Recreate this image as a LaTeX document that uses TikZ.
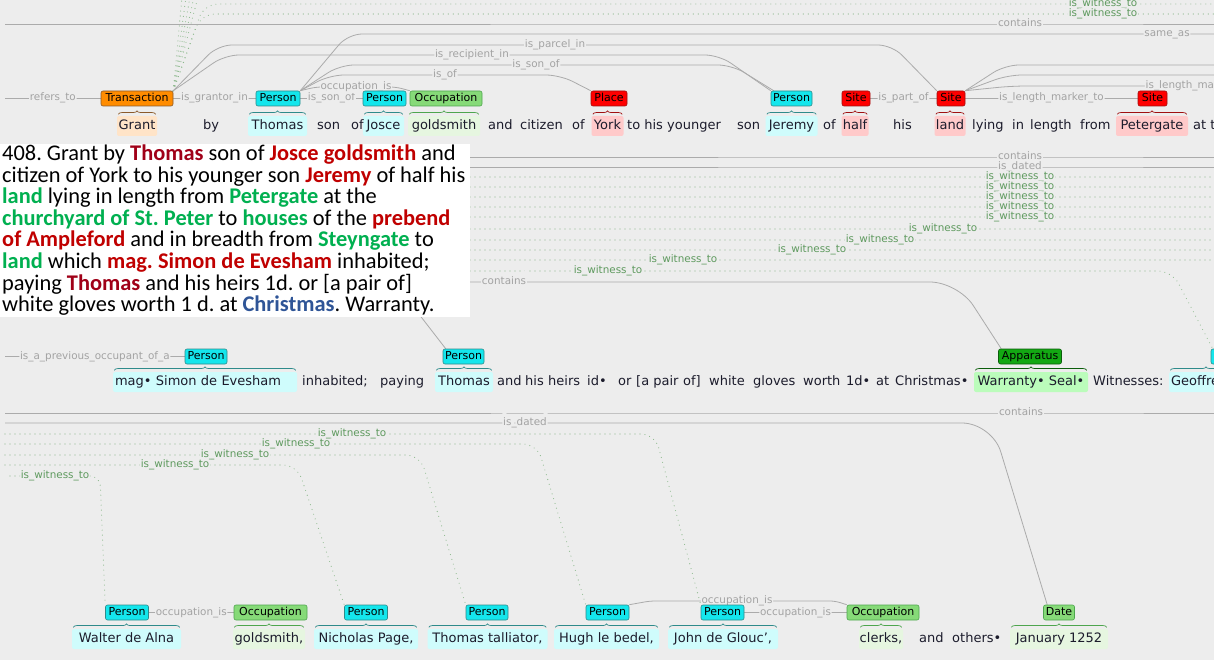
\documentclass[tikz,border=0pt]{standalone}
\usepackage{fontspec}
\setmainfont{DejaVu Sans}
\newfontfamily\calib{Carlito}
\usetikzlibrary{decorations.pathreplacing}
\pgfdeclarelayer{bgl}\pgfdeclarelayer{conl}\pgfsetlayers{bgl,conl,main}
\frenchspacing

\definecolor{bgc}{HTML}{EDEDED}
\definecolor{lnc}{HTML}{ABABAB}
\definecolor{lblc}{HTML}{A3A3A3}
\definecolor{witc}{HTML}{8CB98C}
\definecolor{witl}{HTML}{5F9A5F}
\definecolor{txtc}{HTML}{1C1C2C}
\definecolor{perF}{HTML}{14E6EC}
\definecolor{perB}{HTML}{2E8B8B}
\definecolor{perW}{HTML}{CFFCFC}
\definecolor{occF}{HTML}{86DA78}
\definecolor{occB}{HTML}{4EA64E}
\definecolor{occW}{HTML}{E6F6E0}
\definecolor{siteF}{HTML}{FF0000}
\definecolor{siteB}{HTML}{A01010}
\definecolor{siteW}{HTML}{FFCACA}
\definecolor{trF}{HTML}{FF8C00}
\definecolor{trB}{HTML}{8B5A2B}
\definecolor{trW}{HTML}{FFE4C8}
\definecolor{apF}{HTML}{13A813}
\definecolor{apB}{HTML}{0B5E0B}
\definecolor{apW}{HTML}{BBFCBB}
\definecolor{redA}{HTML}{C00000}
\definecolor{redB}{HTML}{A00018}
\definecolor{grnA}{HTML}{00B050}
\definecolor{bluA}{HTML}{2F5597}

\newcommand\wordsz{\fontsize{13}{15}\selectfont}
\newcommand\badgesz{\fontsize{11}{13}\selectfont}
\newcommand\lblsz{\fontsize{10.4}{12}\selectfont}
\newcommand\boxsz{\calib\fontsize{22.4}{22.4}\selectfont}
\newcommand\rdt[1]{\textcolor{redA}{\bfseries #1}}
\newcommand\thomt[1]{\textcolor{redB}{\bfseries #1}}
\newcommand\grt[1]{\textcolor{grnA}{\bfseries #1}}
\newcommand\blt[1]{\textcolor{bluA}{\bfseries #1}}

\begin{document}
\begin{tikzpicture}[x=1pt,y=-1pt,
  badge/.style={rounded corners=2pt, line width=0.6pt, font=\badgesz, text=black, inner sep=0pt, minimum height=15pt, text height=8pt, text depth=2pt},
  per/.style={badge, fill=perF, draw=perB, minimum width=#1},
  occ/.style={badge, fill=occF, draw=occB, minimum width=#1},
  datb/.style={badge, fill=occF, draw=occB, minimum width=#1},
  sitb/.style={badge, fill=siteF, draw=siteB, minimum width=#1},
  trn/.style={badge, fill=trF, draw=trB, minimum width=#1},
  app/.style={badge, fill=apF, draw=apB, minimum width=#1},
  wbox/.style={rounded corners=2pt, font=\wordsz, text=txtc, inner sep=0pt, minimum height=20pt, text height=9.5pt, text depth=2.5pt},
  pw/.style={wbox, fill=perW, minimum width=#1},
  pwl/.style={wbox, fill=perW, text width=#1, align=left, inner xsep=2pt},
  ow/.style={wbox, fill=occW, minimum width=#1},
  sw/.style={wbox, fill=siteW, minimum width=#1},
  tw/.style={wbox, fill=trW, minimum width=#1},
  aw/.style={wbox, fill=apW, minimum width=#1},
  plain/.style={font=\wordsz, text=txtc, inner sep=0pt, anchor=base west},
  conn/.style={draw=lnc, line width=0.8pt, rounded corners=14pt},
  wit/.style={draw=witc, line width=1.1pt, dash pattern=on 0pt off 5pt, line cap=round, rounded corners=14pt},
  lbl/.style={font=\lblsz, text=lblc, fill=bgc, inner sep=0.8pt, text height=7.5pt, text depth=2.5pt},
  wlbl/.style={lbl, text=witl},
  brc/.style={decorate, decoration={brace, amplitude=3.5pt}, line width=0.7pt},
  boxln/.style={anchor=base west, inner sep=0pt, font=\boxsz, text=black}
]
\useasboundingbox (0,0) rectangle (1214,660);
\begin{pgfonlayer}{bgl}
\fill[bgc] (0,0) rectangle (1214,660);
\end{pgfonlayer}

% ---------- free-end coordinates ----------
\coordinate (L24) at (5,24);   \coordinate (R24) at (1214,24);
\coordinate (R4) at (1214,4);  \coordinate (R14) at (1214,14);
\coordinate (R34) at (1214,34);
\coordinate (R65) at (1214,65); \coordinate (R75) at (1214,75);
\coordinate (L98) at (5,98.5);
\coordinate (H1) at (408,300);
\coordinate (L356) at (5,356.5);

% ---------- row 1 ----------
\node[trn=72] (tr) at (137,98.5) {Transaction};
\node[per=44] (p1) at (278,98.5) {Person};
\node[per=43] (p2) at (384.5,98.5) {Person};
\node[occ=72] (o1) at (446,98.5) {Occupation};
\node[sitb=36] (pl1) at (609,98.5) {Place};
\node[per=41] (p3) at (791.5,98.5) {Person};
\node[sitb=28] (s1) at (856,98.5) {Site};
\node[sitb=28] (s2) at (951,98.5) {Site};
\node[sitb=29] (s3) at (1152.5,98.5) {Site};

\node[tw=40] (wgrant) at (137,126) {Grant};
\node[pw=59] (wthomas) at (277.5,126) {Thomas};
\node[pw=41] (wjosce) at (383.5,126) {Josce};
\node[ow=72] (wgold) at (444,126) {goldsmith};
\node[sw=32] (wyork) at (607.5,126) {York};
\node[pw=52] (wjer) at (791.5,126) {Jeremy};
\node[sw=27] (whalf) at (855,126) {half};
\node[sw=31] (wland) at (950,126) {land};
\node[sw=72] (wpet) at (1152,126) {Petergate};

\foreach \x/\t [count=\i] in {203/by,317/son,351/of,488/and,520/citizen,572/of,627/to his younger,737/son,823/of,893/his,972/lying,1012/in,1030/length,1080/from,1193/at the}
  \node[plain] (ra\i) at (\x,129.5) {\t};

% ---------- row 2 ----------
\node[per=42] (p4) at (206,356.5) {Person};
\node[per=41] (p5) at (463.5,356.5) {Person};
\node[app=63] (ap) at (1030,356.5) {Apparatus};
\node[per=42] (p6) at (1232,356.5) {Person};

\node[pwl=180] (wsimon) at (205,382) {mag• Simon de Evesham};
\node[pw=58] (wthomas2) at (464,382) {Thomas};
\node[aw=114] (wwar) at (1031,382) {Warranty• Seal•};
\node[pwl=70] (wgeof) at (1206,382) {Geoffrey};

\foreach \x/\t [count=\i] in {302/inhabited;,380/paying,497/and,525/his,548/heirs,587/id•,618/or,636/[a pair,683/of],709/white,753/gloves,803/worth,846/1d•,876/at,895/Christmas•,1093/Witnesses:}
  \node[plain] (rb\i) at (\x,385.5) {\t};

% ---------- row 3 ----------
\node[per=43] (walt) at (127,612.5) {Person};
\node[occ=73] (o2) at (270.5,612.5) {Occupation};
\node[per=43] (nich) at (366,612.5) {Person};
\node[per=42] (tt) at (487,612.5) {Person};
\node[per=43] (hugh) at (607.5,612.5) {Person};
\node[per=43] (john) at (722.5,612.5) {Person};
\node[occ=72] (o3) at (883,612.5) {Occupation};
\node[datb=31] (dt) at (1059,612.5) {Date};

\node[pw=109] (wwalt) at (126.5,639) {Walter de Alna};
\node[ow=72] (wgold2) at (269,639) {goldsmith,};
\node[pw=104] (wnich) at (366,639) {Nicholas Page,};
\node[pw=120] (wtt) at (487.5,639) {Thomas talliator,};
\node[pw=105] (whugh) at (606.5,639) {Hugh le bedel,};
\node[pw=110] (wjohn) at (723,639) {John de Glouc',};
\node[ow=44] (wclerks) at (881,639) {clerks,};
\node[ow=98] (wjan) at (1059,639) {January 1252};
\node[plain] (rc1) at (919,642.5) {and};
\node[plain] (rc2) at (952,642.5) {others•};

% ---------- braces ----------
\foreach \w/\c in {wgrant/trB,wthomas/perB,wjosce/perB,wgold/occB,wyork/siteB,wjer/perB,whalf/siteB,wland/siteB,wpet/siteB,wsimon/perB,wthomas2/perB,wwar/apB,wgeof/perB,wwalt/perB,wgold2/occB,wnich/perB,wtt/perB,whugh/perB,wjohn/perB,wclerks/occB,wjan/occB}
  \draw[brc, draw=\c] ([shift={(1.5,-1.5)}]\w.north west) -- ([shift={(-1.5,-1.5)}]\w.north east);

% ---------- text box ----------
\node[fill=white, minimum width=470, minimum height=173, inner sep=0pt, anchor=north west] (tbox) at (0,144) {};
\node[boxln] (bl1) at (2,161) {408. Grant by \thomt{Thomas} son of \rdt{Josce goldsmith} and};
\node[boxln] (bl2) at (2,182.5) {citizen of York to his younger son \rdt{Jeremy} of half his};
\node[boxln] (bl3) at (2,204) {\grt{land} lying in length from \grt{Petergate} at the};
\node[boxln] (bl4) at (2,225.5) {\grt{churchyard of St. Peter} to \grt{houses} of the \rdt{prebend}};
\node[boxln] (bl5) at (2,247) {\rdt{of Ampleford} and in breadth from \grt{Steyngate} to};
\node[boxln] (bl6) at (2,268.5) {\grt{land} which \rdt{mag. Simon de Evesham} inhabited;};
\node[boxln] (bl7) at (2,290) {paying \thomt{Thomas} and his heirs 1d. or [a pair of]};
\node[boxln] (bl8) at (2,311.5) {white gloves worth 1 d. at \blt{Christmas}. Warranty.};

% ---------- connectors ----------
\begin{pgfonlayer}{conl}
% top witness lines
\foreach \k in {182,186,190,194,198}
  \draw[wit, rounded corners=0pt] (tr.north east) -- (\k,-3);
\draw[wit] (tr.north east) -- (204,4) -- (1063,4) -- node[wlbl] (tw1) {is\_witness\_to} (1143,4) -- (R4);
\draw[wit] (tr.north east) -- (201,14) -- (1063,14) -- node[wlbl] (tw2) {is\_witness\_to} (1143,14) -- (R14);
% row 1
\draw[conn] (L24) -- (980,24) -- node[lbl] (lb10) {contains} (1060,24) -- (R24);
\draw[conn] (L98) -- node[lbl] (lb1) {refers\_to} (tr.west);
\draw[conn] (tr.east) -- node[lbl] (lb2) {is\_grantor\_in} (p1.west);
\draw[conn] (p1.east) -- node[lbl] (lb3) {is\_son\_of} (p2.west);
\draw[conn, rounded corners=6pt] (p1.north east) -- (316,87) -- node[lbl] (lb4) {occupation\_is} (396,87) -- (o1.north west);
\draw[conn] (p1.north east) -- (330,75) -- node[lbl] (lb5) {is\_of} (560,75) -- (pl1.north west);
\draw[conn] (p1.north east) -- (340,65) -- node[lbl] (lb6) {is\_son\_of} (732,65) -- ([xshift=3pt]p3.north west);
\draw[conn] (p1.north east) -- (348,34) -- (1120,34) -- node[lbl] (lb7) {same\_as} (R34);
\draw[conn] (tr.north east) -- (225,55) -- node[lbl] (lb8) {is\_recipient\_in} (719,55) -- (p3.north west);
\draw[conn] (tr.north east) -- (218,45) -- node[lbl] (lb9) {is\_parcel\_in} (892,45) -- (s2.north west);
\draw[conn] (s1.east) -- node[lbl] (lb11) {is\_part\_of} (s2.west);
\draw[conn] (s2.east) -- node[lbl] (lb12) {is\_length\_marker\_to} (s3.west);
\draw[conn] (s2.north east) -- (1005,65) -- (R65);
\draw[conn] (s2.north east) -- (1008,75) -- (R75);
\draw[conn] (s2.north east) -- (1012,86) -- (1182,86) -- node[lbl] (lb13) {is\_length\_marker\_to} (1214,86);
% middle
\draw[conn] (465,157) -- (980,157) -- node[lbl] (lm1) {contains} (1060,157) -- (1214,157);
\draw[conn] (465,167) -- (980,167) -- node[lbl] (lm2) {is\_dated} (1060,167) -- (1214,167);
\foreach \yy/\lx in {177/1020,187/1020,197/1020,207/1020,217/1020,229/943,240/880,250/812,260/683}
  \draw[wit] (465,\yy) -- ({\lx-40},\yy) -- node[wlbl] (mw\yy) {is\_witness\_to} ({\lx+40},\yy) -- (1214,\yy);
\draw[wit] (465,271) -- (568,271) -- node[wlbl] (mw271) {is\_witness\_to} (648,271) -- (1172,271) -- ([xshift=2pt]p6.north west);
\draw[conn, rounded corners=28pt] (465,282) -- node[lbl] (lm3) {contains} (543,282) -- (958,282) -- ([xshift=3pt]ap.north west);
\draw[conn] (H1) -- ([xshift=3pt]p5.north west);
% row 2
\draw[conn] (L356) -- node[lbl] (lr2) {is\_a\_previous\_occupant\_of\_a} (p4.west);
% row 3 top
\draw[conn] (5,413) -- (981,413) -- node[lbl] (lr3) {contains} (1061,413) -- (1214,413);
\draw[conn, rounded corners=30pt] (5,423) -- (485,423) -- node[lbl] (lr4) {is\_dated} (565,423) -- (992,423) -- ([xshift=4pt]dt.north west);
\draw[wit] (5,434) -- (312,434) -- node[wlbl] (lw1) {is\_witness\_to} (392,434) -- (655,434) -- (john.north west);
\draw[wit] (5,444) -- (256,444) -- node[wlbl] (lw2) {is\_witness\_to} (336,444) -- (537,444) -- (hugh.north west);
\draw[wit] (5,455) -- (195,455) -- node[wlbl] (lw3) {is\_witness\_to} (275,455) -- (420,455) -- (tt.north west);
\draw[wit] (5,465) -- (135,465) -- node[wlbl] (lw4) {is\_witness\_to} (215,465) -- (297,465) -- (nich.north west);
\draw[wit, rounded corners=10pt] (10,476) -- node[wlbl] (lw5) {is\_witness\_to} (100,476) -- (walt.north west);
% row 3
\draw[conn] (walt.east) -- node[lbl] (lo1) {occupation\_is} (o2.west);
\draw[conn] (john.east) -- node[lbl] (lo2) {occupation\_is} (o3.west);
\draw[conn, rounded corners=5pt] (hugh.north east) -- (650,601) -- (700,601) -- node[lbl] (lo3) {occupation\_is} (774,601) -- (835,601) -- (o3.north west);
\end{pgfonlayer}
\end{tikzpicture}
\end{document}
